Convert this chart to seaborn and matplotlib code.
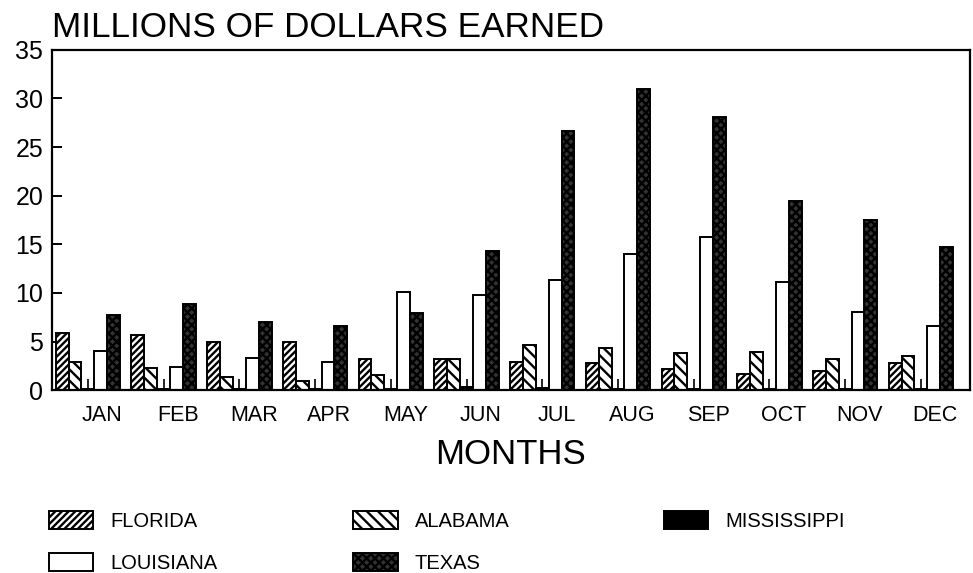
import numpy as np
import pandas as pd
import matplotlib
matplotlib.use("Agg")
import matplotlib.pyplot as plt
import seaborn as sns
from matplotlib.patches import Patch

# data (millions of dollars)
months = ["JAN", "FEB", "MAR", "APR", "MAY", "JUN", "JUL", "AUG", "SEP", "OCT", "NOV", "DEC"]
states = ["FLORIDA", "ALABAMA", "MISSISSIPPI", "LOUISIANA", "TEXAS"]
florida = [5.85, 5.7, 5.0, 5.0, 3.2, 3.2, 2.85, 2.75, 2.2, 1.65, 2.0, 2.8]
alabama = [2.85, 2.3, 1.4, 0.95, 1.55, 3.25, 4.7, 4.35, 3.8, 3.9, 3.2, 3.5]
mississippi = [0.1, 0.1, 0.1, 0.1, 0.15, 0.3, 0.2, 0.1, 0.1, 0.1, 0.1, 0.1]
louisiana = [4.05, 2.35, 3.35, 2.85, 10.1, 9.75, 11.3, 14.0, 15.8, 11.1, 8.0, 6.6]
texas = [7.7, 8.9, 7.0, 6.65, 7.95, 14.35, 26.7, 30.95, 28.1, 19.5, 17.55, 14.75]

df = pd.DataFrame({"month": months, "FLORIDA": florida, "ALABAMA": alabama,
                   "MISSISSIPPI": mississippi, "LOUISIANA": louisiana, "TEXAS": texas})
long = df.melt(id_vars="month", var_name="state", value_name="value")

sns.set_style("ticks")
plt.rcParams["font.family"] = ["Liberation Sans", "DejaVu Sans"]
plt.rcParams["hatch.linewidth"] = 1.7
for k in ["text.color", "axes.labelcolor", "xtick.color", "ytick.color", "axes.edgecolor"]:
    plt.rcParams[k] = "black"

# fill / hatch per state
face = {"FLORIDA": "white", "ALABAMA": "white", "MISSISSIPPI": "black",
        "LOUISIANA": "white", "TEXAS": "#333333"}
hatch = {"FLORIDA": "/////", "ALABAMA": "\\\\\\", "MISSISSIPPI": None,
         "LOUISIANA": None, "TEXAS": "xxxx"}

fig = plt.figure(figsize=(9.73, 5.73), dpi=100)
ax = fig.add_axes([0.053, 0.319, 0.944, 0.594])

sns.barplot(data=long, x="month", y="value", hue="state", hue_order=states,
            order=months, palette=["white"] * 5, width=0.85, gap=0,
            edgecolor="black", linewidth=1.4, legend=False, ax=ax)

for cont, st in zip(ax.containers, states):
    for bar in cont:
        bar.set_facecolor(face[st])
        if hatch[st]:
            bar.set_hatch(hatch[st])

ax.set_ylim(0, 35)
ax.set_xlim(-0.48, 11.65)
ax.set_yticks(range(0, 36, 5))
ax.tick_params(axis="y", direction="in", length=7, width=1.4, labelsize=18, pad=6)

# inward ticks at group centres, labels sit a little to the right
ax.set_xticks(range(12))
ax.set_xticklabels([""] * 12)
ax.tick_params(axis="x", which="major", direction="in", length=8, width=1.2)
ax.set_xticks(np.arange(12) + 0.19, minor=True)
ax.set_xticklabels(months, minor=True, fontsize=15.5)
ax.tick_params(axis="x", which="minor", length=0, pad=11)

for sp in ax.spines.values():
    sp.set_linewidth(1.6)

ax.set_xlabel("MONTHS", fontsize=25, labelpad=8)
ax.set_ylabel("")
ax.set_title("MILLIONS OF DOLLARS EARNED", loc="left", fontsize=25.3, pad=9)

handles = {s: Patch(facecolor=face[s], edgecolor="black", hatch=hatch[s], linewidth=1.4) for s in states}

# one legend per column, like the original layout
columns = [(["FLORIDA", "LOUISIANA"], 0.050), (["ALABAMA", "TEXAS"], 0.363), (["MISSISSIPPI"], 0.682)]
for names, x0 in columns:
    fig.legend([handles[s] for s in names], names, loc="upper left",
               bbox_to_anchor=(x0, 0.108), frameon=False, fontsize=14.5,
               handlelength=2.2, handleheight=1.0, handletextpad=0.85,
               labelspacing=1.1, borderpad=0, borderaxespad=0)

fig.savefig("out.png", dpi=100)
